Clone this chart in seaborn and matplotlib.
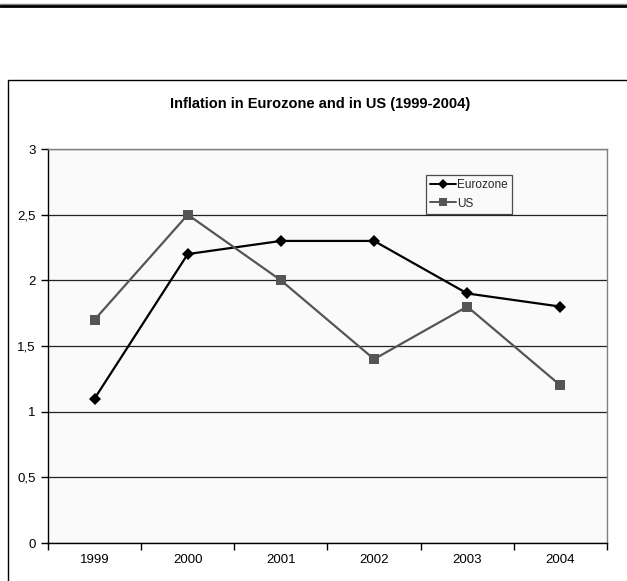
import matplotlib
matplotlib.use("Agg")
import matplotlib.pyplot as plt
from matplotlib.patches import Rectangle
from matplotlib.lines import Line2D
import pandas as pd
import seaborn as sns

years = ["1999", "2000", "2001", "2002", "2003", "2004"]
eurozone = [1.1, 2.2, 2.3, 2.3, 1.9, 1.8]
us = [1.7, 2.5, 2.0, 1.4, 1.8, 1.2]
y_ticks = [0, 0.5, 1, 1.5, 2, 2.5, 3]
y_labels = ["0", "0,5", "1", "1,5", "2", "2,5", "3"]

df = pd.DataFrame({
    "pos": list(range(len(years))) * 2,
    "value": eurozone + us,
    "series": ["Eurozone"] * len(years) + ["US"] * len(years),
})

sns.set_theme(style="white")
plt.rcParams["font.family"] = ["Liberation Sans", "DejaVu Sans"]

W, H = 627, 581
fig = plt.figure(figsize=(W / 100, H / 100), dpi=100)
fig.patch.set_facecolor("white")

# page rule across the top
fig.add_artist(Line2D([0, 1], [1 - 4 / H, 1 - 4 / H], transform=fig.transFigure,
                      color="#808080", lw=1.0))
fig.add_artist(Line2D([0, 1], [1 - 6 / H, 1 - 6 / H], transform=fig.transFigure,
                      color="black", lw=2.0))

# outer chart frame
fig.add_artist(Rectangle((7.5 / W, -0.1), 1.2, 1.1 - 80 / H, transform=fig.transFigure,
                         fill=False, edgecolor="black", lw=1.0, clip_on=False))

left, right, top, bottom = 48, 607, 149, 543
ax = fig.add_axes([left / W, 1 - bottom / H, (right - left) / W, (bottom - top) / H])
ax.set_facecolor("#fafafa")

palette = {"Eurozone": "black", "US": "#555555"}
markers = {"Eurozone": "D", "US": "s"}
sns.lineplot(data=df, x="pos", y="value", hue="series", style="series",
             palette=palette, markers=markers, dashes=False, linewidth=1.6,
             markersize=6.5, markeredgewidth=0, ax=ax, zorder=3, legend=False)

ax.set_xlim(-0.5, len(years) - 0.5)
ax.set_ylim(0, 3)
ax.set_yticks(y_ticks)
ax.set_yticklabels(y_labels)
ax.set_xticks([i - 0.5 for i in range(len(years) + 1)])
ax.set_xticklabels([])
ax.set_xticks(range(len(years)), minor=True)
ax.set_xticklabels(years, minor=True)
ax.tick_params(axis="x", which="major", direction="out", length=5, width=1, color="black", bottom=True)
ax.tick_params(axis="x", which="minor", length=0, pad=8, labelsize=9.5, labelcolor="black")
ax.tick_params(axis="y", direction="out", length=5, width=1, color="black", left=True,
               labelsize=9.5, labelcolor="black", pad=4)
ax.set_xlabel("")
ax.set_ylabel("")

ax.yaxis.grid(True, color="#222222", lw=0.9)
ax.set_axisbelow(True)
for side in ["left", "bottom"]:
    ax.spines[side].set_color("black")
    ax.spines[side].set_linewidth(1.0)
for side in ["top", "right"]:
    ax.spines[side].set_color("#808080")
    ax.spines[side].set_linewidth(1.0)

handles = [
    Line2D([], [], color="black", marker="D", markersize=5, lw=1.4, markeredgewidth=0),
    Line2D([], [], color="#555555", marker="s", markersize=6, lw=1.4, markeredgewidth=0),
]
leg = ax.legend(handles, ["Eurozone", "US"], loc="upper left",
                bbox_to_anchor=((426 - left) / (right - left), 1 - (175 - top) / (bottom - top)),
                frameon=True, fancybox=False, fontsize=8.5, handlelength=2.2,
                handletextpad=0.1, borderpad=0.35, labelspacing=0.55, borderaxespad=0)
leg.get_frame().set_edgecolor("#222222")
leg.get_frame().set_linewidth(0.9)
leg.get_frame().set_facecolor("#fafafa")

fig.text(320 / W, 1 - 104 / H, "Inflation in Eurozone and in US (1999-2004)",
         ha="center", va="center", fontsize=10.5, fontweight="bold", color="black")

fig.savefig("out.png", dpi=100)
